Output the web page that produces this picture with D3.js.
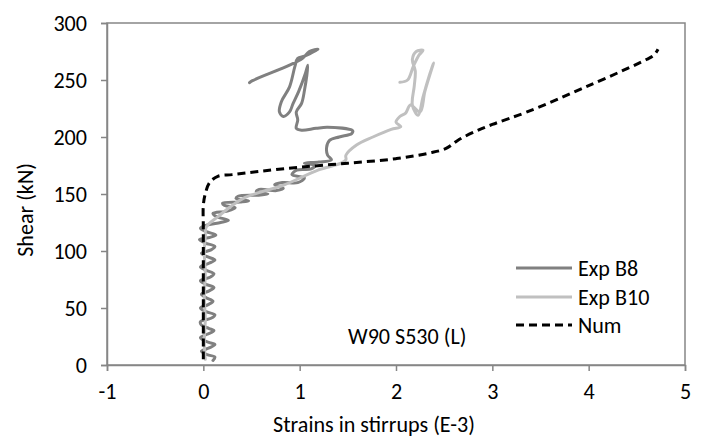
<!DOCTYPE html>
<html><head><meta charset="utf-8">
<script src="https://cdn.jsdelivr.net/npm/d3@7"></script>
<style>body{margin:0;background:#fff}svg{display:block}text{font-family:Carlito,Lato,"Open Sans",sans-serif;fill:#000}</style>
</head><body>
<script>
// Data: [strain (E-3), shear (kN)]
const expB8 = [
[0.10,4],[0.12,7],[0.04,9],[-0.02,12],[0.06,15],[0.12,18],[0.05,20],[-0.03,24],[0.04,27],[0.11,30],
[0.06,32],[-0.02,35],[-0.03,38],[0.08,41],[0.12,44],[0.02,47],[-0.03,50],[0.05,53],[0.10,56],[0.03,59],
[-0.02,62],[0.06,65],[0.11,68],[0.02,71],[-0.03,74],[0.07,77],[0.11,80],[0.03,83],[-0.03,86],[0.05,89],
[0.12,92],[0.04,95],[-0.02,98],[0.08,101],[0.12,104],[0.02,107],[-0.04,110],[0.07,112],[0.13,114],[0.03,117],
[-0.03,120],[0.05,123],[0.18,125],[0.26,127],[0.14,130],[0.10,133],[0.25,135],[0.33,138],[0.22,140],
[0.20,142],[0.38,143],[0.47,144],[0.34,146],[0.36,148],[0.56,149],[0.67,150],[0.55,152],[0.58,154],[0.76,153],
[0.83,155],[0.74,158],[0.82,160],[0.98,160],[1.05,164],[0.92,167],[0.97,171],[1.12,172],[1.16,175],[1.05,177],
[1.20,178],[1.33,180],[1.29,184],[1.28,191],[1.31,197],[1.41,200],[1.54,203],[1.55,205.5],[1.29,208.5],[1.17,207.6],
[1.02,206],[0.965,207.6],[0.98,215],[0.965,222],[1.02,229.5],[1.05,241],[1.085,263],[1.06,256],[0.99,240],[0.93,229],
[0.895,222],[0.83,218],[0.79,222],[0.81,231],[0.895,244],[0.95,261.7],[0.98,269],[1.05,271],[1.17,276],[1.19,277],
[1.10,275],[1.03,269],[0.895,263],[0.51,249.4],[0.48,247.6]
];
const expB10 = [
[0.02,5],[0.01,20],[0.02,40],[0.01,60],[0.02,80],[0.01,100],[0.02,112],[0.03,121],[0.15,130],[0.41,146],
[0.84,158],[1.19,171],[1.43,177],[1.48,180],[1.48,184],[1.59,193],[1.76,200],[1.95,206.7],[2.05,209],[2.00,213],
[2.04,218],[2.10,221],[2.15,228],[2.25,222],[2.30,240],[2.39,265],[2.35,255],[2.28,235],[2.23,219],[2.17,228],
[2.19,245],[2.20,258],[2.17,268],[2.21,275],[2.28,276],[2.24,272],[2.18,262],[2.12,250],[2.04,248]
];
const num = [
[0,5],[0,60],[0,120],[0,140],[0.02,150],[0.065,160],[0.15,165.5],[0.3,167],[0.6,170],[1.0,173.5],
[1.5,177],[2.0,181],[2.35,186],[2.52,190],[2.64,197],[2.8,204],[3.0,211],[3.36,222],[4.0,245],[4.6,268],[4.68,272],[4.72,277]
];
const xTicks = [-1,0,1,2,3,4,5];
const yTicks = [0,50,100,150,200,250,300];
const seriesNames = ["Exp B8","Exp B10","Num"];
const seriesColors = ["#808080","#c0c0c0","#000000"];
const xTitle = "Strains in stirrups (E-3)";
const yTitle = "Shear (kN)";
const note = "W90 S530 (L)";

const W=707,H=446;
const svg=d3.select("body").append("svg").attr("width",W).attr("height",H);
const L=107,R=685,T=23,B=365;
const x=d3.scaleLinear().domain([-1,5]).range([L,R]);
const y=d3.scaleLinear().domain([0,300]).range([B,T]);
const axisCol="#868686";

const probe=svg.append("text").style("font-size","20px").text(xTitle);
const pw=probe.node().getComputedTextLength();
probe.remove();
const fs=Math.max(14,Math.min(26,20*202/pw));
const FS=fs.toFixed(2)+"px";

svg.append("rect").attr("x",L).attr("y",T).attr("width",R-L).attr("height",B-T)
  .attr("fill","none").attr("stroke",axisCol).attr("stroke-width",1.5);

const xa=svg.append("g").attr("transform",`translate(0,${B})`)
  .call(d3.axisBottom(x).tickValues(xTicks).tickSize(6).tickPadding(12).tickFormat(d=>String(d)));
const ya=svg.append("g").attr("transform",`translate(${L},0)`)
  .call(d3.axisLeft(y).tickValues(yTicks).tickSize(6).tickPadding(14));
[xa,ya].forEach(g=>{
  g.selectAll("path").attr("stroke",axisCol).attr("stroke-width",1.5);
  g.selectAll("line").attr("stroke",axisCol).attr("stroke-width",1.5);
  g.selectAll("text").style("font-size",FS).style("font-family",null).attr("fill","#000");
});
xa.selectAll("text").attr("dy","0.71em");

svg.append("text").attr("x",374).attr("y",424).attr("dy","0.35em").attr("text-anchor","middle")
  .style("font-size",FS).text(xTitle);
svg.append("text").attr("transform",`translate(25,${210}) rotate(-90)`).attr("dy","0.35em").attr("text-anchor","middle")
  .style("font-size",FS).text(yTitle);

const line=d3.line().x(d=>x(d[0])).y(d=>y(d[1])).curve(d3.curveCatmullRom.alpha(0.5));
const data=[expB8,expB10,num];
data.forEach((s,i)=>{
  const p=svg.append("path").datum(s).attr("d",line).attr("fill","none")
    .attr("stroke",seriesColors[i]).attr("stroke-width",3)
    .attr("stroke-linejoin","round").attr("stroke-linecap",i==2?"butt":"round");
  if(i==2) p.attr("stroke-dasharray","8,5");
});

const ly=[268,297,325];
seriesNames.forEach((n,i)=>{
  const l=svg.append("line").attr("x1",516).attr("x2",572).attr("y1",ly[i]).attr("y2",ly[i])
    .attr("stroke",seriesColors[i]).attr("stroke-width",3);
  if(i==2) l.attr("stroke-dasharray","8,5");
  svg.append("text").attr("x",578).attr("y",ly[i]).attr("dy","0.35em").style("font-size",FS).text(n);
});
svg.append("text").attr("x",348).attr("y",336).attr("dy","0.35em").style("font-size",FS).text(note);
</script>
</body></html>
